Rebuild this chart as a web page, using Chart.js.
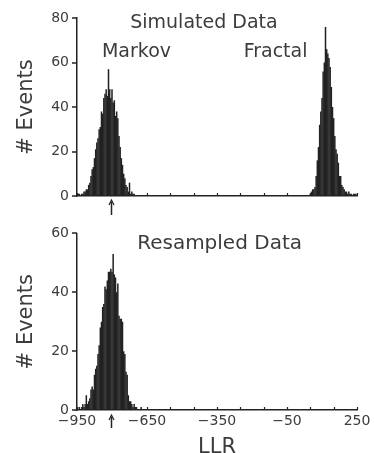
<!DOCTYPE html>
<html>
<head>
<meta charset="utf-8">
<script src="https://cdn.jsdelivr.net/npm/chart.js@4.4.1/dist/chart.umd.min.js"></script>
<style>
html, body { margin: 0; padding: 0; background: #fff; overflow: hidden; width: 374px; height: 453px; }
canvas { position: absolute; left: 0; }
#topChart { top: 0; }
#bottomChart { top: 222px; }
</style>
</head>
<body>
<canvas id="topChart" width="374" height="222"></canvas>
<canvas id="bottomChart" width="374" height="240"></canvas>
<script>
// Simulated data, Markov model (LLR bin, # events)
const markovLLR = [-945, -940, -935, -930, -925, -920, -915, -910, -905, -900, -895, -890, -885, -880, -875, -870, -865, -860, -855, -850,
  -845, -840, -835, -830, -825, -820, -815, -810, -805, -800, -795, -790, -785, -780, -775, -770, -765, -760, -755, -750,
  -745, -740, -735, -730, -725, -720, -715, -710, -705];
const markovCounts = [1, 1, 0, 1, 1, 2, 2, 3, 3, 5, 6, 9, 12, 13, 17, 21, 24, 26, 30, 31,
  38, 37, 44, 46, 48, 45, 57, 48, 44, 48, 42, 43, 36, 38, 35, 27, 22, 17, 14, 10,
  8, 5, 4, 2, 6, 1, 2, 1, 1];

// Simulated data, fractal model
const fractalLLR = [50, 55, 60, 65, 70, 75, 80, 85, 90, 95, 100, 105, 110, 115, 120, 125, 130, 135, 140, 145,
  150, 155, 160, 165, 170, 175, 180, 185, 190, 195, 200, 205, 210, 215, 220, 225, 230, 235, 240, 245];
const fractalCounts = [1, 2, 3, 3, 4, 9, 16, 22, 32, 38, 44, 56, 60, 76, 66, 64, 62, 58, 49, 40,
  35, 27, 21, 19, 15, 9, 9, 5, 4, 3, 2, 2, 1, 2, 1, 1, 0, 1, 1, 1];

// Resampled data
const resampledLLR = [-940, -935, -930, -925, -920, -915, -910, -905, -900, -895, -890, -885, -880, -875, -870, -865, -860, -855, -850, -845,
  -840, -835, -830, -825, -820, -815, -810, -805, -800, -795, -790, -785, -780, -775, -770, -765, -760, -755, -750, -745,
  -740, -735, -730, -725, -720, -715, -710, -705, -700, -695, -690, -685, -680, -675, -670];
const resampledCounts = [1, 0, 1, 2, 1, 2, 5, 2, 3, 4, 7, 8, 7, 12, 14, 15, 19, 22, 28, 30,
  35, 36, 42, 41, 44, 47, 47, 48, 47, 53, 46, 45, 40, 43, 32, 31, 31, 30, 20, 19,
  13, 12, 5, 3, 3, 2, 1, 2, 1, 1, 0, 0, 0, 1, 0];

const xLabelValues = [-950, -650, -350, -50, 250];
const topYTicks = [0, 20, 40, 60, 80];
const bottomYTicks = [0, 20, 40, 60];
const observedLLR = -805; // arrow under the axis

const ink = '#222';
const textInk = '#3c3c3c';
const family = '"DejaVu Sans", sans-serif';

function toPoints(xs, ys) {
  return xs.map((x, i) => ({ x: x, y: ys[i] }));
}

// inward x ticks, outward y ticks, arrow and panel captions
function panelPlugin(notes, arrow) {
  return {
    id: 'panel',
    afterDraw(chart) {
      const ctx = chart.ctx;
      const xs = chart.scales.x, ys = chart.scales.y;
      const base = chart.chartArea.bottom;
      const left = chart.chartArea.left;
      ctx.save();
      ctx.strokeStyle = ink;
      ctx.lineWidth = 1.2;
      xs.ticks.forEach(t => {
        const px = Math.round(xs.getPixelForValue(t.value)) + 0.5;
        ctx.beginPath();
        ctx.moveTo(px, base);
        ctx.lineTo(px, base - 3);
        ctx.stroke();
      });
      ctx.lineWidth = 1.5;
      ys.ticks.forEach(t => {
        const py = Math.round(ys.getPixelForValue(t.value));
        ctx.beginPath();
        ctx.moveTo(left, py);
        ctx.lineTo(left - 5, py);
        ctx.stroke();
      });
      // arrow
      const ax = Math.round(xs.getPixelForValue(observedLLR)) + 0.5;
      ctx.lineWidth = 1.5;
      ctx.beginPath();
      ctx.moveTo(ax, base + arrow[0] + 2);
      ctx.lineTo(ax, base + arrow[1]);
      ctx.stroke();
      ctx.lineWidth = 1.2;
      ctx.beginPath();
      ctx.moveTo(ax - 2.5, base + arrow[0] + 5);
      ctx.lineTo(ax, base + arrow[0]);
      ctx.lineTo(ax + 2.5, base + arrow[0] + 5);
      ctx.stroke();
      // captions
      ctx.fillStyle = textInk;
      ctx.textAlign = 'center';
      ctx.textBaseline = 'middle';
      notes.forEach(n => {
        ctx.font = n.size + 'px ' + family;
        ctx.fillText(n.text, xs.getPixelForValue(n.x), ys.getPixelForValue(n.y));
      });
      ctx.restore();
    }
  };
}

function makeChart(id, points, yMax, yTicks, showX, axisH, padTop, notes, arrow) {
  return new Chart(document.getElementById(id), {
    type: 'bar',
    data: {
      datasets: [{
        data: points,
        backgroundColor: ink,
        borderWidth: 0,
        barPercentage: 1.3,
        categoryPercentage: 1
      }]
    },
    options: {
      responsive: false,
      animation: false,
      devicePixelRatio: 1,
      layout: { padding: { top: padTop, right: 17, left: 0, bottom: 0 } },
      plugins: { legend: { display: false }, tooltip: { enabled: false } },
      scales: {
        x: {
          type: 'linear',
          offset: false,
          min: -950,
          max: 250,
          afterFit: s => { s.height = axisH; },
          border: { display: true, color: ink, width: 1.5 },
          grid: { display: true, drawOnChartArea: false, drawTicks: false },
          ticks: {
            display: showX,
            stepSize: 100,
            autoSkip: false,
            maxRotation: 0,
            padding: 3,
            color: textInk,
            font: { family: family, size: 14 },
            callback: v => xLabelValues.includes(v) ? String(v).replace('-', '\u2212') : ''
          },
          title: {
            display: showX,
            text: 'LLR',
            color: textInk,
            font: { family: family, size: 21 },
            padding: { top: 0, bottom: 2 }
          }
        },
        y: {
          min: 0,
          max: yMax,
          afterFit: s => { s.width = 77; },
          afterBuildTicks: s => { s.ticks = yTicks.map(v => ({ value: v })); },
          border: { display: true, color: ink, width: 1.5 },
          grid: { display: true, drawOnChartArea: false, drawTicks: true, tickLength: 5, color: 'rgba(0,0,0,0)' },
          ticks: {
            padding: 3,
            color: textInk,
            font: { family: family, size: 14 }
          },
          title: {
            display: true,
            text: '# Events',
            color: textInk,
            font: { family: family, size: 21 },
            padding: { top: 14, bottom: 0 }
          }
        }
      }
    },
    plugins: [panelPlugin(notes, arrow)]
  });
}

const topNotes = [
  { text: 'Simulated Data', x: -406, y: 77.7, size: 19 },
  { text: 'Markov', x: -695, y: 64.7, size: 19 },
  { text: 'Fractal', x: -99, y: 64.7, size: 19 }
];
const bottomNotes = [
  { text: 'Resampled Data', x: -339, y: 56.6, size: 20 }
];

makeChart('topChart', toPoints(markovLLR, markovCounts).concat(toPoints(fractalLLR, fractalCounts)),
  80, topYTicks, false, 26, 18, topNotes, [4, 19]);
makeChart('bottomChart', toPoints(resampledLLR, resampledCounts),
  60, bottomYTicks, true, 52, 11, bottomNotes, [5, 18]);
</script>
</body>
</html>
